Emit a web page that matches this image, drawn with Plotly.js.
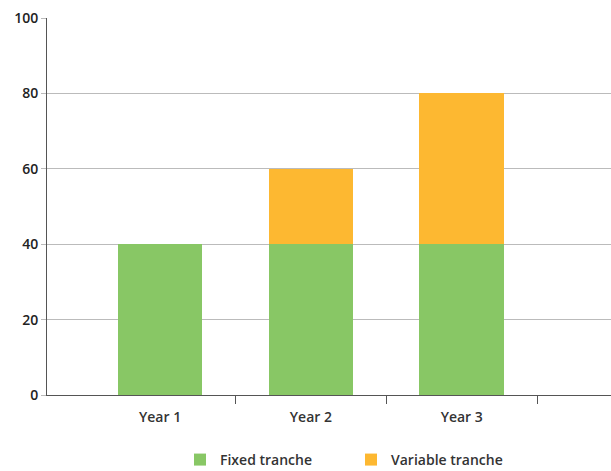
<!DOCTYPE html>
<html><head><meta charset="utf-8">
<script src="https://cdn.plot.ly/plotly-3.0.1.min.js"></script>
<style>html,body{margin:0;padding:0;background:#fff;overflow:hidden}#c{width:611px;height:471px}</style>
</head><body><div id="c"></div>
<script>
const categories = ["Year 1", "Year 2", "Year 3"];
const positions = [1, 2, 3];
const boundaryTicks = [1.5, 2.5, 3.5];
const fixedTranche = [40, 40, 40];
const variableTranche = [0, 20, 40];
const seriesNames = ["Fixed tranche", "Variable tranche"];
const yTicks = [0, 20, 40, 60, 80, 100];

const fam = "Open Sans, sans-serif";
const traces = [
  {type: "bar", x: positions, y: fixedTranche, name: seriesNames[0], marker: {color: "#88C765"}, width: 0.56},
  {type: "bar", x: positions, y: variableTranche, name: seriesNames[1], marker: {color: "#FDB831"}, width: 0.56},
  {type: "scatter", x: boundaryTicks, y: [null, null, null], xaxis: "x2", showlegend: false, hoverinfo: "skip"}
];
const layout = {
  width: 611, height: 471,
  margin: {l: 47, r: 0, t: 18, b: 76, autoexpand: false},
  barmode: "stack",
  font: {family: fam, size: 14, color: "#333"},
  paper_bgcolor: "#fff", plot_bgcolor: "#fff",
  xaxis: {range: [0.25, 3.99], tickvals: positions, ticktext: categories, ticks: "", showgrid: false,
          zeroline: false, showline: true, linecolor: "#555", linewidth: 1, ticklabelstandoff: 9,
          tickfont: {family: fam, size: 14, color: "#333", weight: 600}},
  xaxis2: {overlaying: "x", range: [0.25, 3.99], tickvals: boundaryTicks, showticklabels: false, ticks: "outside",
           ticklen: 8, tickcolor: "#555", showgrid: false, zeroline: false, showline: false},
  yaxis: {range: [0, 100], tickvals: yTicks, ticks: "outside", ticklen: 5, tickcolor: "#bbb", gridcolor: "#bbb",
          showline: true, linecolor: "#555", linewidth: 1, zeroline: false,
          tickfont: {family: fam, size: 14, color: "#222", weight: 600}},
  legend: {orientation: "h", xref: "container", yref: "container", x: 0.2946, xanchor: "left", y: 0.0234, yanchor: "middle",
           entrywidth: 126, entrywidthmode: "pixels", font: {family: fam, size: 14, color: "#333", weight: 600}, traceorder: "normal"},
  showlegend: true
};
Plotly.newPlot("c", traces, layout, {displayModeBar: false, staticPlot: true});
</script></body></html>
